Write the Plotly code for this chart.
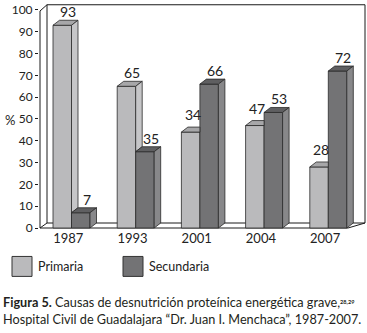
import plotly.graph_objects as go

# ---- data ----
years = ["1987", "1993", "2001", "2004", "2007"]
primaria = [93, 65, 44, 47, 28]          # bar heights as drawn
secundaria = [7, 35, 66, 53, 72]
primaria_labels = ["93", "65", "34", "47", "28"]   # printed labels
secundaria_labels = ["7", "35", "66", "53", "72"]
yticks = [0, 10, 20, 30, 40, 50, 60, 70, 80, 90, 100]

# ---- geometry (pixels) ----
W, H = 367, 333
PL, PR, PT, PB = 39, 366, 4, 229.5      # plot area in px
X0PX, XSTEP = 71.5, 64.2                # group centre px, step
Y0PX, YSCALE = 228.5, 2.185             # px of value 0, px per unit

def xu(px):
    return (px - X0PX) / XSTEP

def yu(py):
    return (Y0PX - py) / YSCALE

def px2paper(px, py):
    return (px - PL) / (PR - PL), (H - py - (H - PB)) / (PB - PT)

xr = [xu(PL), xu(PR)]
yr = [yu(PB), yu(PT)]
BW = 18.5 / XSTEP       # bar width (units)
DX = 6.5 / XSTEP        # depth offset x
DY = 5.0 / YSCALE       # depth offset y

C_P = dict(front="#bababc", top="#a7a7a9", side="#c6c6c8")
C_S = dict(front="#737375", top="#5f5f61", side="#88888a")
EDGE = "#2a2a2a"

fig = go.Figure()

def poly(xs, ys, color):
    fig.add_trace(go.Scatter(x=xs + [xs[0]], y=ys + [ys[0]], mode="lines",
                             fill="toself", fillcolor=color,
                             line=dict(color=EDGE, width=0.8),
                             hoverinfo="skip", showlegend=False))

# front faces
xs_p = [i - BW / 2 for i in range(len(years))]
xs_s = [i + BW / 2 for i in range(len(years))]
fig.add_trace(go.Bar(x=xs_p, y=primaria, width=BW, name="Primaria",
                     marker=dict(color=C_P["front"], line=dict(color=EDGE, width=0.8)),
                     showlegend=False))
fig.add_trace(go.Bar(x=xs_s, y=secundaria, width=BW, name="Secundaria",
                     marker=dict(color=C_S["front"], line=dict(color=EDGE, width=0.8)),
                     showlegend=False))

# 3D faces
for i in range(len(years)):
    vp, vs = primaria[i], secundaria[i]
    x0, x1, x2 = i - BW, i, i + BW
    if vp >= vs:
        poly([x0, x1, x1 + DX, x0 + DX], [vp, vp, vp + DY, vp + DY], C_P["top"])
        poly([x1, x1, x1 + DX, x1 + DX], [vs, vp, vp + DY, vs + DY], C_P["side"])
    else:
        poly([x0, x1, x1, x0 + DX], [vp, vp, vp + DY, vp + DY], C_P["top"])
    poly([x1, x2, x2 + DX, x1 + DX], [vs, vs, vs + DY, vs + DY], C_S["top"])
    poly([x2, x2, x2 + DX, x2 + DX], [0, vs, vs + DY, DY], C_S["side"])

# data labels
ann = []
for i in range(len(years)):
    vp, vs = primaria[i], secundaria[i]
    blocked = vp < vs   # primaria label nudged away from the taller neighbour
    ann.append(dict(x=i - BW / 2 + (DX * 0.3 if blocked else DX * 0.9), y=vp + DY,
                    text=primaria_labels[i], xref="x", yref="y", showarrow=False,
                    yanchor="bottom", yshift=2 if blocked else -2,
                    font=dict(size=14, color="#222")))
    ann.append(dict(x=i + BW / 2 + DX * 0.9, y=vs + DY, text=secundaria_labels[i],
                    xref="x", yref="y", showarrow=False, yanchor="bottom", yshift=-2,
                    font=dict(size=14, color="#222")))

# frame lines
shapes = []
def line(xa, ya, xb, yb):
    shapes.append(dict(type="line", xref="x", yref="y", x0=xa, y0=ya, x1=xb, y1=yb,
                       line=dict(color="#1a1a1a", width=1), layer="below"))

ax_px, back_px, fr_px, br_px = 40, 47, 348, 365
top_v = 100 + DY * 1.05
line(xu(ax_px), 0, xu(ax_px), 100 - DY * 0.2)
line(xu(ax_px), 100 - DY * 0.2, xu(back_px), top_v)
line(xu(back_px), top_v, xu(br_px), top_v)
line(xu(br_px), top_v, xu(br_px), DY)
line(xu(back_px), DY, xu(back_px), top_v)
line(xu(ax_px), 0, xu(fr_px), 0)
line(xu(back_px), DY, xu(br_px), DY)
line(xu(ax_px), 0, xu(back_px), DY)
line(xu(fr_px), 0, xu(br_px), DY)

# legend boxes
for (bx, col, txt) in [(12, C_P["front"], "Primaria"), (123, C_S["front"], "Secundaria")]:
    a, b = px2paper(bx, 277)
    c, d = px2paper(bx + 20, 257)
    shapes.append(dict(type="rect", xref="paper", yref="paper", x0=a, y0=b, x1=c, y1=d,
                       fillcolor=col, line=dict(color="#333", width=1)))
    tx, ty = px2paper(bx + 24, 267)
    ann.append(dict(x=tx, y=ty, xref="paper", yref="paper", text=txt, showarrow=False,
                    xanchor="left", yanchor="middle", font=dict(size=12.5, color="#222")))

# % label
px_, py_ = px2paper(10, 120)
ann.append(dict(x=px_, y=py_, xref="paper", yref="paper", text="%", showarrow=False,
                xanchor="center", yanchor="middle", font=dict(size=13, color="#222")))

# caption
for (cy, txt) in [(303, "<b>Figura 5.</b> Causas de desnutrición proteínica energética grave,"
                        "<span style='font-size:8px'><b><sup>28,29</sup></b></span>"),
                  (320, "Hospital Civil de Guadalajara “Dr. Juan I. Menchaca”, 1987-2007.")]:
    cx, cyp = px2paper(1, cy)
    ann.append(dict(x=cx, y=cyp, xref="paper", yref="paper", text=txt, showarrow=False,
                    xanchor="left", yanchor="middle", font=dict(size=12.7, color="#231f20")))

fig.update_layout(
    width=W, height=H,
    margin=dict(l=PL, r=W - PR, t=PT, b=H - PB, pad=0),
    paper_bgcolor="white", plot_bgcolor="white",
    barmode="overlay",
    font=dict(family="Lato, 'Open Sans', sans-serif", color="#222"),
    xaxis=dict(range=xr, tickvals=[i - 0.05 for i in range(len(years))], ticktext=years,
               showgrid=False, zeroline=False, showline=False, ticks="",
               tickfont=dict(size=13)),
    yaxis=dict(range=yr, tickvals=yticks, ticks="outside", ticklen=3, tickcolor="#1a1a1a",
               showgrid=False, zeroline=False, showline=False, tickfont=dict(size=12)),
    shapes=shapes, annotations=ann, showlegend=False,
)

fig.write_html("out.html", config={"displayModeBar": False},
               post_script="document.body.style.margin='0';document.body.style.padding='0';")
